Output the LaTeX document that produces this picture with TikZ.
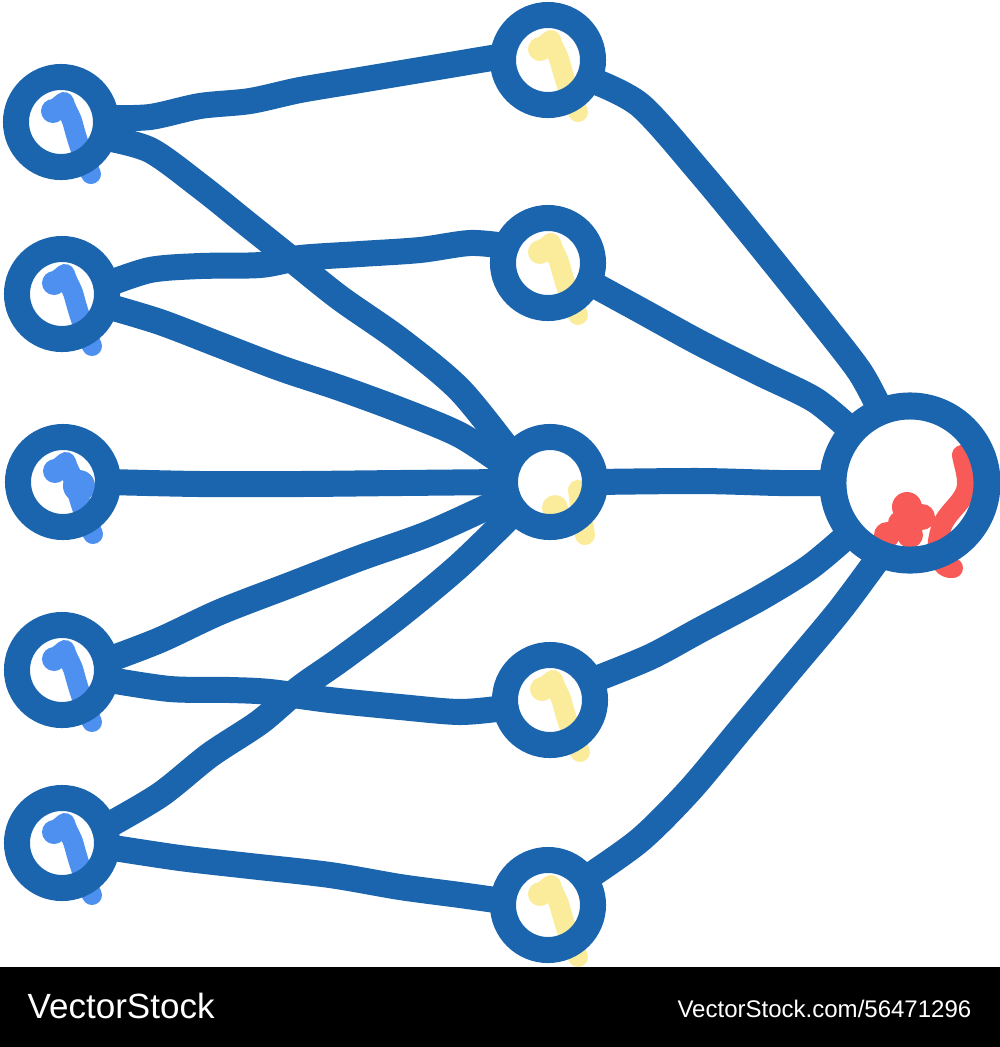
\documentclass[tikz,border=0pt]{standalone}
\usepackage{fontspec}
\setmainfont{Liberation Sans}
\usetikzlibrary{calc}
\definecolor{netblue}{RGB}{26,101,174}
\definecolor{accblue}{RGB}{77,144,240}
\definecolor{accyellow}{RGB}{250,236,155}
\definecolor{accred}{RGB}{247,90,87}
\tikzset{
  ring/.style={circle, draw=netblue, line width=0.26cm, minimum size=0.9cm, inner sep=0pt, outer sep=0pt},
  bigring/.style={circle, draw=netblue, line width=0.27cm, minimum size=1.54cm, inner sep=0pt, outer sep=0pt},
  edge/.style={draw=netblue, line width=0.26cm, line cap=round, line join=round},
  accstroke/.style={line width=0.2cm, line cap=round, line join=round},
  hook/.pic={
    \draw[accstroke] (-7,-12) -- (3,-20) to[out=-75,in=105] (12,2) to[out=-75,in=115] (30,52);
    \fill (-8,-11) circle[radius=0.12cm];
  }
}
\begin{document}
\begin{tikzpicture}[x=0.01cm, y=-0.01cm]
\useasboundingbox (0,0) rectangle (1000,1047);
\fill[black] (0,967) rectangle (1000,1047);
% centres
\coordinate (c1) at (61,122);
\coordinate (c2) at (62,294);
\coordinate (c3) at (63,482);
\coordinate (c4) at (62,670);
\coordinate (c5) at (62,843);
\coordinate (m1) at (548,60);
\coordinate (m2) at (548,263);
\coordinate (m3) at (550,482);
\coordinate (m4) at (550,700);
\coordinate (m5) at (548,905);
\coordinate (rc) at (910,483);
% accents under rings
\pic[color=accblue] at (c1) {hook};
\pic[color=accblue] at (c2) {hook};
\pic[color=accblue] at (c3) {hook};
\fill[accblue] ($(c3)+(16,4)$) circle[radius=0.16cm];
\pic[color=accblue] at (c4) {hook};
\pic[color=accblue] at (c5) {hook};
\pic[color=accyellow] at (m1) {hook};
\pic[color=accyellow] at (m2) {hook};
\pic[color=accyellow] at (m4) {hook};
\pic[color=accyellow] at (m5) {hook};
\fill[accyellow] ($(m3)+(5,26)$) circle[radius=0.13cm];
\draw[accyellow, accstroke] ($(m3)+(28,8)$) -- ($(m3)+(35,53)$);
\begin{scope}[shift={(rc)}]
\draw[accred, accstroke] (52,-28) to[out=-80,in=95] (57,-3) to[out=-85,in=50] (40,30)
   to[out=-130,in=80] (28,58) to[out=-100,in=-170] (43,85);
\fill[accred] (-3,24) circle[radius=0.15cm];
\fill[accred] (12,34) circle[radius=0.13cm];
\fill[accred] (-23,52) circle[radius=0.13cm];
\fill[accred] (0,52) circle[radius=0.13cm];
\fill[accred] (-10,40) circle[radius=0.12cm];
\end{scope}
% nodes
\node[ring] (L1) at (c1) {};
\node[ring] (L2) at (c2) {};
\node[ring] (L3) at (c3) {};
\node[ring] (L4) at (c4) {};
\node[ring] (L5) at (c5) {};
\node[ring] (M1) at (m1) {};
\node[ring] (M2) at (m2) {};
\node[ring] (M3) at (m3) {};
\node[ring] (M4) at (m4) {};
\node[ring] (M5) at (m5) {};
\node[bigring] (R) at (rc) {};
% edges
\draw[edge] plot[smooth, tension=0.5] coordinates {(L1.5) (150,117) (200,106) (250,101) (300,90) (360,80) (420,70) (M1.175)};
\draw[edge] plot[smooth, tension=0.5] coordinates {(L1.-20) (150,150) (200,186) (245,222) (290,258) (340,298) (400,340) (460,390) (M3.145)};
\draw[edge] plot[smooth, tension=0.5] coordinates {(L2.12) (150,270) (200,266) (260,265) (300,258) (360,254) (420,250) (470,243) (M2.158)};
\draw[edge] plot[smooth, tension=0.5] coordinates {(L2.-15) (160,322) (220,345) (280,368) (340,388) (400,410) (460,435) (M3.160)};
\draw[edge] plot[smooth, tension=0.5] coordinates {(L3.0) (200,484) (300,484) (400,483) (M3.180)};
\draw[edge] plot[smooth, tension=0.5] coordinates {(L4.12) (160,640) (220,612) (290,585) (360,558) (430,533) (M3.-160)};
\draw[edge] plot[smooth, tension=0.5] coordinates {(L4.-12) (170,689) (230,690) (270,692) (330,700) (400,707) (460,712) (M4.-170)};
\draw[edge] plot[smooth, tension=0.5] coordinates {(L5.20) (160,795) (210,755) (260,722) (300,688) (340,660) (400,615) (460,565) (M3.-140)};
\draw[edge] plot[smooth, tension=0.5] coordinates {(L5.-5) (180,858) (250,866) (330,875) (400,887) (460,895) (M5.175)};
\draw[edge] plot[smooth, tension=0.5] coordinates {(M1.-25) (640,105) (700,172) (760,245) (820,320) (860,372) (R.112)};
\draw[edge] plot[smooth, tension=0.5] coordinates {(M2.-25) (640,310) (700,343) (760,373) (815,400) (R.138)};
\draw[edge] plot[smooth, tension=0.5] coordinates {(M3.0) (700,481) (780,483) (R.180)};
\draw[edge] plot[smooth, tension=0.5] coordinates {(M4.25) (650,657) (700,630) (760,598) (810,567) (R.-140)};
\draw[edge] plot[smooth, tension=0.5] coordinates {(M5.35) (640,840) (690,790) (740,730) (790,670) (840,610) (R.-112)};
% footer
\node[anchor=base west, inner sep=0pt, text=white, font=\fontsize{9.96pt}{12pt}\selectfont] (brand) at (27,1018) {VectorStock};
\node[anchor=base east, inner sep=0pt, text=white, font=\fontsize{6.83pt}{8pt}\selectfont] (url) at (972,1017) {VectorStock.com/56471296};
\end{tikzpicture}
\end{document}
